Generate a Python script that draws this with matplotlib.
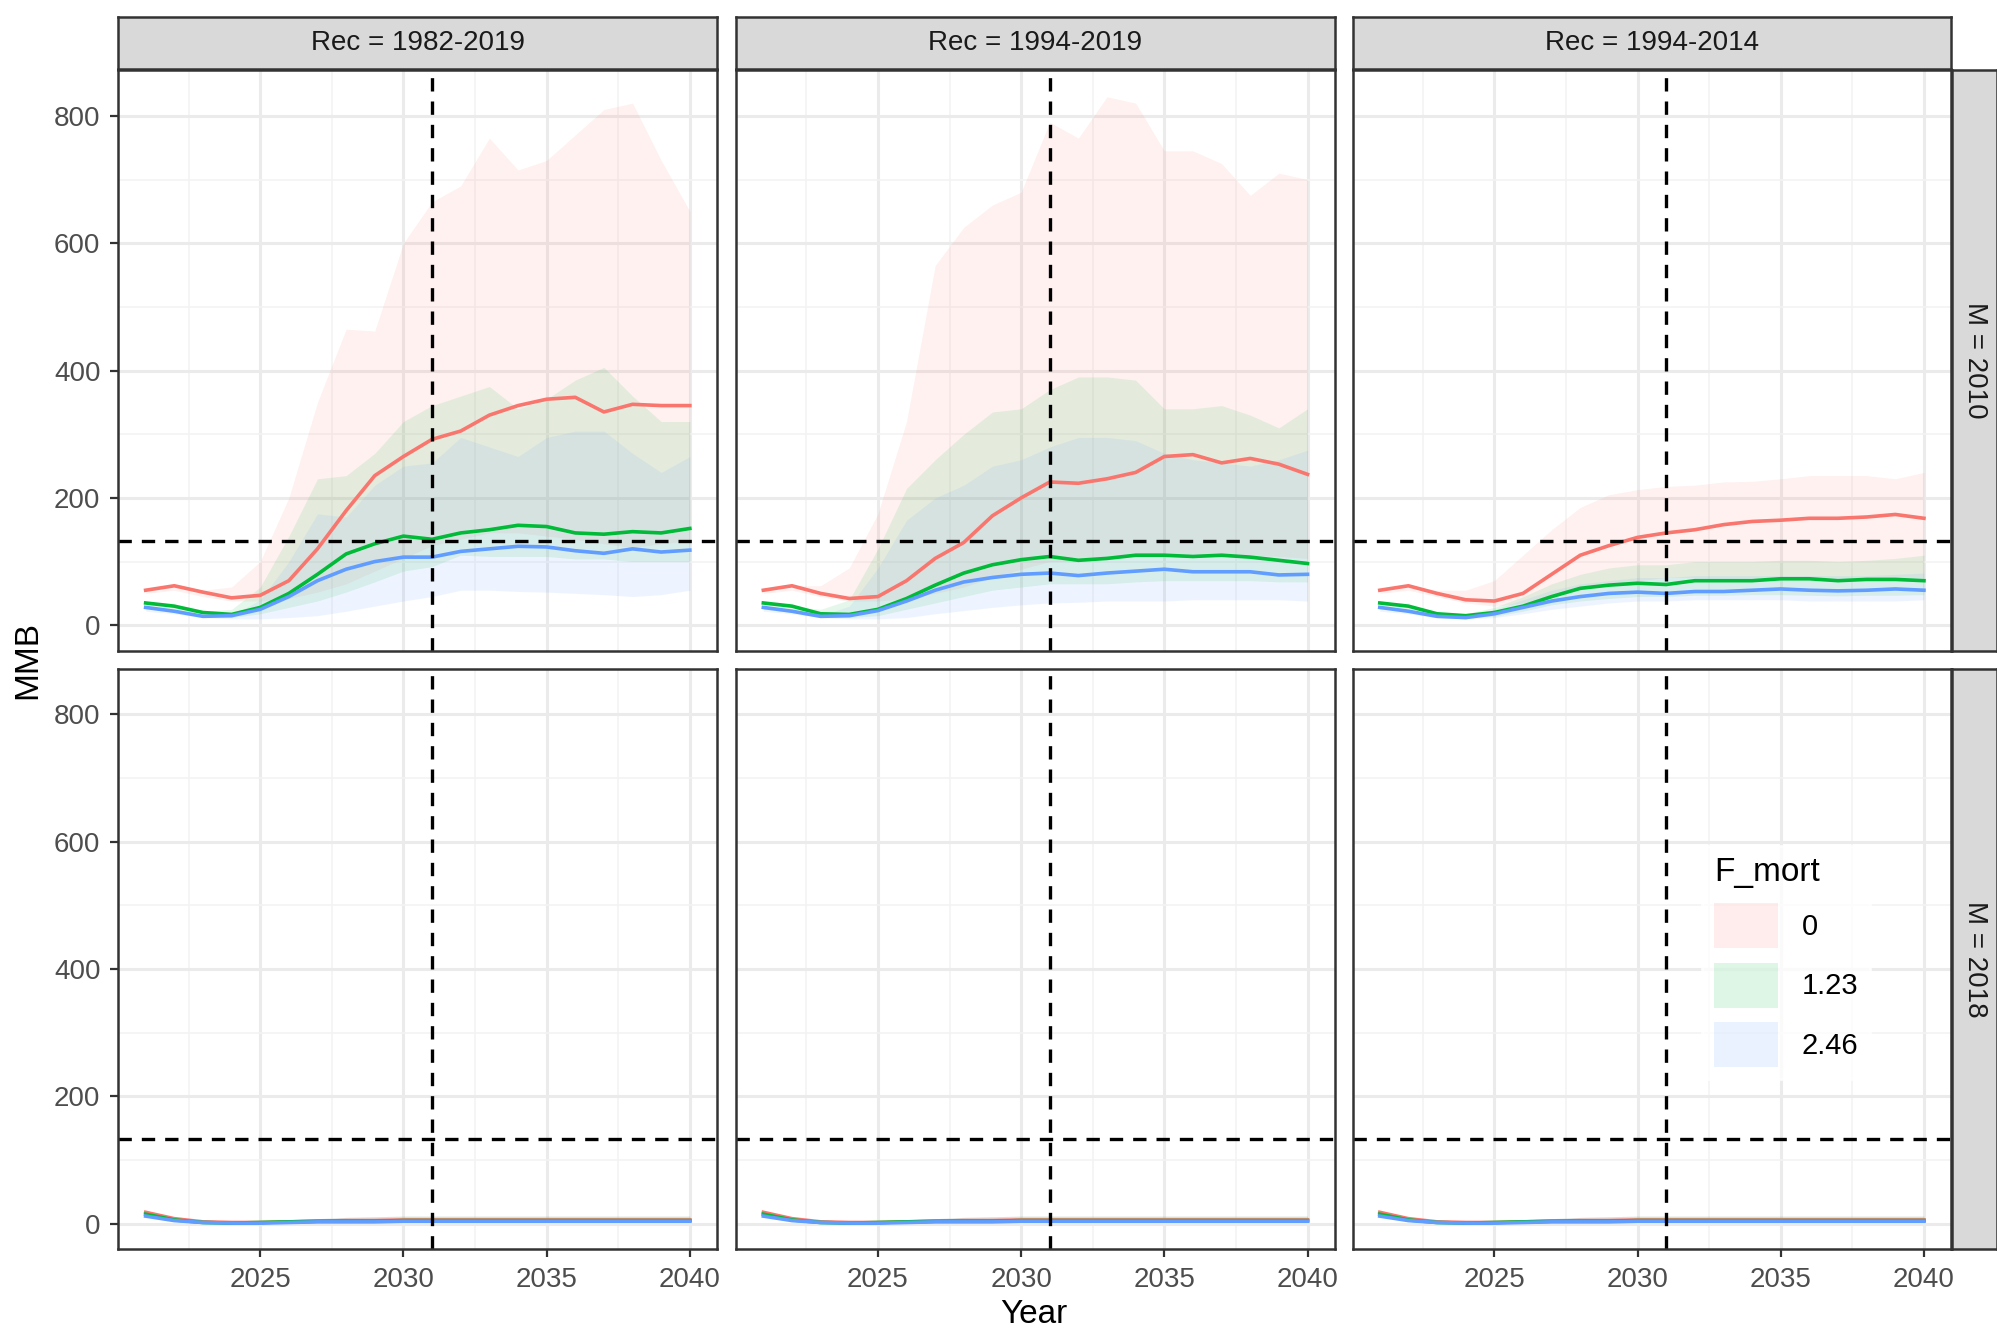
import numpy as np
import matplotlib.pyplot as plt
from matplotlib.patches import Patch

plt.rcParams["font.family"] = ["Liberation Sans", "DejaVu Sans"]

years = np.arange(2021, 2041)
rec_labels = ["Rec = 1982-2019", "Rec = 1994-2019", "Rec = 1994-2014"]
m_labels = ["M = 2010", "M = 2018"]
f_levels = ["0", "1.23", "2.46"]
colors = ["#F8766D", "#00BA38", "#619CFF"]
target_mmb = 133
target_year = 2031

# ---- M = 2010 ----
r1_med = [55, 62, 52, 43, 47, 70, 120, 180, 235, 265, 292, 305, 330, 345, 355, 358, 335, 347, 345, 345]
r1_hi = [55, 62, 55, 60, 100, 200, 350, 465, 462, 600, 665, 690, 765, 715, 730, 770, 810, 820, 730, 650]
r1_lo = [50, 55, 45, 38, 38, 42, 52, 65, 85, 105, 125, 135, 145, 145, 140, 135, 128, 122, 128, 132]
g1_med = [35, 30, 20, 17, 28, 50, 80, 112, 128, 140, 135, 145, 150, 157, 155, 145, 143, 147, 145, 152]
g1_hi = [35, 30, 22, 25, 60, 140, 230, 235, 270, 320, 345, 360, 375, 340, 355, 385, 405, 360, 320, 320]
g1_lo = [30, 25, 15, 12, 18, 28, 38, 52, 68, 85, 92, 110, 108, 108, 108, 104, 104, 100, 100, 100]
b1_med = [28, 22, 14, 15, 25, 45, 70, 88, 100, 107, 107, 116, 120, 124, 123, 117, 113, 120, 115, 118]
b1_hi = [30, 25, 15, 15, 40, 100, 175, 170, 220, 250, 255, 295, 280, 265, 295, 305, 305, 270, 240, 265]
b1_lo = [22, 18, 12, 10, 10, 12, 15, 22, 30, 38, 45, 55, 55, 53, 52, 50, 48, 45, 48, 55]

r2_med = [55, 62, 50, 42, 45, 70, 105, 130, 172, 200, 225, 223, 230, 240, 265, 268, 255, 262, 253, 237]
r2_hi = [55, 62, 62, 90, 175, 320, 565, 625, 660, 680, 790, 765, 830, 820, 745, 745, 725, 675, 710, 700]
r2_lo = [50, 55, 45, 38, 38, 42, 50, 60, 75, 88, 100, 100, 105, 108, 112, 112, 110, 110, 108, 105]
g2_med = [35, 30, 18, 17, 25, 42, 63, 82, 95, 103, 108, 102, 105, 110, 110, 108, 110, 107, 102, 97]
g2_hi = [35, 30, 25, 40, 120, 215, 260, 300, 335, 340, 370, 390, 390, 385, 340, 340, 345, 330, 310, 340]
g2_lo = [25, 20, 12, 12, 15, 25, 35, 45, 55, 60, 65, 65, 65, 68, 70, 70, 70, 70, 68, 68]
b2_med = [28, 22, 14, 15, 23, 38, 55, 68, 75, 80, 82, 78, 82, 85, 88, 84, 84, 84, 79, 80]
b2_hi = [30, 25, 15, 30, 90, 165, 200, 220, 250, 260, 280, 295, 295, 290, 270, 260, 255, 250, 260, 275]
b2_lo = [22, 18, 12, 10, 10, 12, 18, 23, 28, 32, 35, 36, 38, 38, 38, 40, 40, 40, 40, 38]

r3_med = [55, 62, 50, 40, 38, 50, 80, 110, 125, 138, 145, 150, 158, 163, 165, 168, 168, 170, 174, 168]
r3_hi = [55, 62, 55, 55, 70, 110, 150, 185, 205, 213, 218, 220, 225, 226, 230, 235, 235, 235, 230, 240]
r3_lo = [50, 55, 45, 35, 30, 35, 45, 55, 65, 70, 75, 75, 75, 75, 75, 75, 75, 75, 75, 75]
g3_med = [35, 30, 18, 15, 20, 30, 45, 58, 63, 66, 64, 70, 70, 70, 73, 73, 70, 72, 72, 70]
g3_hi = [35, 30, 20, 18, 28, 45, 65, 80, 90, 95, 95, 100, 100, 100, 102, 102, 100, 102, 105, 110]
g3_lo = [30, 25, 15, 12, 14, 22, 32, 38, 42, 45, 45, 47, 47, 48, 48, 47, 46, 47, 47, 48]
b3_med = [28, 22, 14, 12, 18, 28, 38, 45, 50, 52, 50, 53, 53, 55, 57, 55, 54, 55, 57, 55]
b3_hi = [30, 25, 15, 13, 25, 40, 55, 65, 70, 75, 75, 78, 78, 78, 78, 78, 78, 78, 80, 82]
b3_lo = [22, 18, 12, 10, 12, 18, 25, 30, 35, 38, 38, 40, 40, 40, 40, 38, 38, 38, 38, 40]

# ---- M = 2018 (near zero) ----
lr_med = [18, 8, 3, 2, 2, 3, 4, 5, 5, 6, 6, 6, 6, 6, 6, 6, 6, 6, 6, 6]
lr_hi = [18, 9, 4, 3, 4, 6, 8, 10, 11, 12, 12, 12, 12, 12, 12, 12, 12, 12, 12, 12]
lr_lo = [15, 6, 2, 1, 1, 1, 2, 2, 2, 3, 3, 3, 3, 3, 3, 3, 3, 3, 3, 3]
lg_med = [15, 6, 2, 1, 2, 3, 4, 4, 4, 5, 5, 5, 5, 5, 5, 5, 5, 5, 5, 5]
lb_med = [12, 5, 2, 1, 1, 2, 3, 3, 3, 4, 4, 4, 4, 4, 4, 4, 4, 4, 4, 4]

top = [
    [(r1_med, r1_lo, r1_hi), (g1_med, g1_lo, g1_hi), (b1_med, b1_lo, b1_hi)],
    [(r2_med, r2_lo, r2_hi), (g2_med, g2_lo, g2_hi), (b2_med, b2_lo, b2_hi)],
    [(r3_med, r3_lo, r3_hi), (g3_med, g3_lo, g3_hi), (b3_med, b3_lo, b3_hi)],
]
low = [(lr_med, lr_lo, lr_hi), (lg_med, lr_lo, lr_hi), (lb_med, lr_lo, lr_hi)]

W, H = 1568, 1046
fig = plt.figure(figsize=(9.985, 6.66), dpi=200)
panel_left = [93, 578, 1062]
panel_w = 470
row_top = [55, 525]
panel_h = 456
strip_h = 41
grey = "#D9D9D9"
edge = "#333333"
tcol = "#4D4D4D"

axes = []
for r in range(2):
    for c in range(3):
        x0 = panel_left[c] / W
        y0 = 1 - (row_top[r] + panel_h) / H
        ax = fig.add_axes([x0, y0, panel_w / W, panel_h / H])
        axes.append(ax)
        data = top[c] if r == 0 else low
        for (med, lo, hi), col in zip(data, colors):
            ax.fill_between(years, lo, hi, color=col, alpha=0.1, lw=0)
        for (med, lo, hi), col in zip(data, colors):
            ax.plot(years, med, color=col, lw=1.3)
        ax.axhline(target_mmb, color="black", ls=(0, (4, 3)), lw=1.2)
        ax.axvline(target_year, color="black", ls=(0, (4, 3)), lw=1.2)
        ax.set_xlim(2020.05, 2040.95)
        ax.set_ylim(-40, 872)
        ax.set_xticks([2025, 2030, 2035, 2040])
        ax.set_xticks([2022.5, 2027.5, 2032.5, 2037.5], minor=True)
        ax.set_yticks([0, 200, 400, 600, 800])
        ax.set_yticks([100, 300, 500, 700], minor=True)
        ax.grid(which="major", color="#EBEBEB", lw=1.1)
        ax.grid(which="minor", color="#F3F3F3", lw=0.6)
        ax.set_axisbelow(True)
        for s in ax.spines.values():
            s.set_color(edge)
            s.set_linewidth(0.9)
        ax.tick_params(which="minor", length=0)
        ax.tick_params(which="major", color=edge, labelcolor=tcol, labelsize=10, length=3)
        if c != 0:
            ax.tick_params(axis="y", length=0, labelleft=False)
        if r == 0:
            ax.tick_params(axis="x", length=0, labelbottom=False)
            sax = fig.add_axes([x0, 1 - 13 / H - strip_h / H, panel_w / W, strip_h / H])
            sax.set_facecolor(grey)
            sax.set_xticks([]); sax.set_yticks([])
            for s in sax.spines.values():
                s.set_color(edge); s.set_linewidth(0.9)
            sax.text(0.5, 0.5, rec_labels[c], ha="center", va="center", fontsize=10, color="#1A1A1A")
        if c == 2:
            rax = fig.add_axes([1533 / W, y0, 35 / W, panel_h / H])
            rax.set_facecolor(grey)
            rax.set_xticks([]); rax.set_yticks([])
            for s in rax.spines.values():
                s.set_color(edge); s.set_linewidth(0.9)
            rax.text(0.5, 0.5, m_labels[r], ha="center", va="center", rotation=-90,
                     fontsize=10, color="#1A1A1A")

fig.text(812 / W, 1 - 1032 / H, "Year", ha="center", va="center", fontsize=12)
fig.text(22 / W, 1 - 518 / H, "MMB", ha="center", va="center", rotation=90, fontsize=12)

handles = [Patch(facecolor=col, alpha=0.13, edgecolor="none") for col in colors]
axes[5].legend(handles, f_levels, title="F_mort", loc="upper left",
               bbox_to_anchor=(0.56, 0.72), frameon=True, facecolor="white",
               edgecolor="white", fontsize=10.5, title_fontsize=12,
               handlelength=2.2, handleheight=2.0, alignment="left")

fig.savefig("out.png", dpi=200)
